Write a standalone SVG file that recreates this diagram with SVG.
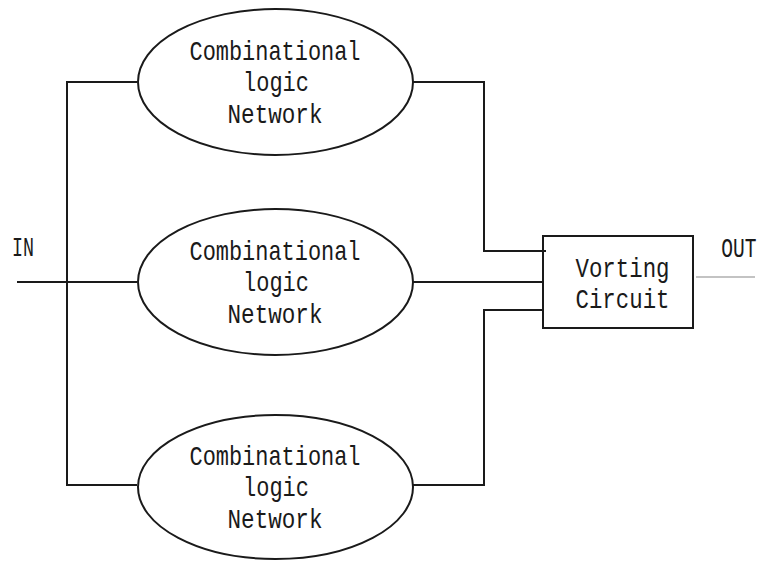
<svg xmlns="http://www.w3.org/2000/svg" width="763" height="561" viewBox="0 0 763 561">
<style>
.shape{fill:none;stroke:#1a1a1a;stroke-width:2}
.wire{fill:none;stroke:#1a1a1a;stroke-width:2}
.thin{fill:none;stroke:#888;stroke-width:1.2}
text{font-family:"Liberation Mono","DejaVu Sans Mono",monospace;font-size:28px;fill:#1a1a1a;text-anchor:middle}
</style>
<rect width="763" height="561" fill="#fff"/>
<g id="connectors">
<polyline class="wire" points="137,82 67,82 67,485 137,485"/>
<line class="wire" x1="17" y1="282" x2="137" y2="282"/>
<polyline class="wire" points="413,82 484,82 484,251 546,251"/>
<line class="wire" x1="413" y1="282" x2="543" y2="282"/>
<polyline class="wire" points="413,485 484,485 484,310 543,310"/>
<line class="thin" x1="696" y1="277" x2="755" y2="277"/>
</g>
<g id="in-label"><text x="23" y="256" textLength="22" lengthAdjust="spacingAndGlyphs">IN</text></g>
<g id="out-label"><text transform="translate(739,257) scale(0.7,1)" x="0" y="0">OUT</text></g>
<g id="clnet1">
<ellipse class="shape" cx="275.5" cy="82" rx="137.5" ry="73"/>
<text x="275" y="60" textLength="171" lengthAdjust="spacingAndGlyphs">Combinational</text>
<text x="276" y="91" textLength="66" lengthAdjust="spacingAndGlyphs">logic</text>
<text x="275" y="123" textLength="95" lengthAdjust="spacingAndGlyphs">Network</text>
</g>
<g id="clnet2">
<ellipse class="shape" cx="275.5" cy="282" rx="137.5" ry="73"/>
<text x="275" y="260" textLength="171" lengthAdjust="spacingAndGlyphs">Combinational</text>
<text x="276" y="291" textLength="66" lengthAdjust="spacingAndGlyphs">logic</text>
<text x="275" y="323" textLength="95" lengthAdjust="spacingAndGlyphs">Network</text>
</g>
<g id="clnet3">
<ellipse class="shape" cx="275.5" cy="487" rx="137.5" ry="72"/>
<text x="275" y="465" textLength="171" lengthAdjust="spacingAndGlyphs">Combinational</text>
<text x="276" y="496" textLength="66" lengthAdjust="spacingAndGlyphs">logic</text>
<text x="275" y="528" textLength="95" lengthAdjust="spacingAndGlyphs">Network</text>
</g>
<g id="voting">
<rect class="shape" x="543" y="236" width="150" height="92"/>
<text x="622.5" y="277" textLength="94" lengthAdjust="spacingAndGlyphs">Vorting</text>
<text x="622.5" y="308" textLength="94" lengthAdjust="spacingAndGlyphs">Circuit</text>
</g>
</svg>
